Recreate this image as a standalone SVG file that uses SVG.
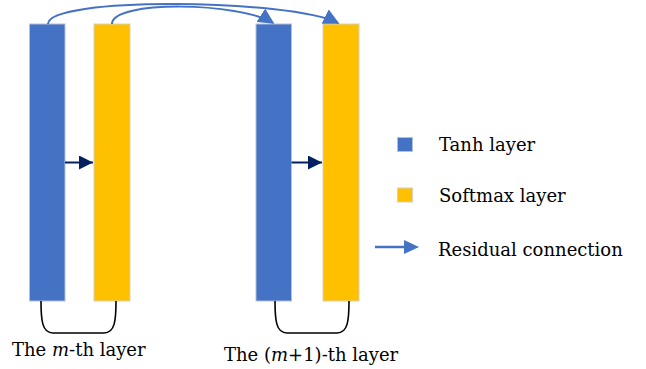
<svg xmlns="http://www.w3.org/2000/svg" width="646" height="369" viewBox="0 0 646 369">
<style>
.tanh{fill:#4472C4;stroke:#B4C0D8;stroke-width:1}
.soft{fill:#FFC000;stroke:#D8D0B8;stroke-width:1}
.res{fill:none;stroke:#4472C4;stroke-width:2}
.inner{fill:none;stroke:#002060;stroke-width:2}
.brk{fill:none;stroke:#000;stroke-width:1.6}
</style>
<defs>
<marker id="hb" viewBox="0 0 10 10" refX="9" refY="5" markerWidth="8" markerHeight="8" markerUnits="strokeWidth" orient="auto"><path d="M0,0 L10,5 L0,10 Z" fill="#4472C4"/></marker>
<marker id="hn" viewBox="0 0 10 10" refX="10" refY="5" markerWidth="7" markerHeight="7" markerUnits="strokeWidth" orient="auto"><path d="M0,0 L10,5 L0,10 Z" fill="#002060"/></marker>
</defs>
<g id="tanh-m"><rect class="tanh" x="29.5" y="24" width="35.5" height="277"/></g>
<g id="softmax-m"><rect class="soft" x="94" y="24" width="36" height="277"/></g>
<g id="tanh-m1"><rect class="tanh" x="256" y="24" width="35.5" height="277"/></g>
<g id="softmax-m1"><rect class="soft" x="323" y="24" width="36" height="277"/></g>
<g id="connectors">
<path class="res" d="M48,24 C48,-4 290,-1 338,23" marker-end="url(#hb)"/>
<path class="res" d="M112,24 C112,0 240,2 273,23" marker-end="url(#hb)"/>
<path class="inner" d="M65,162.5 L93,162.5" marker-end="url(#hn)"/>
<path class="inner" d="M291.5,162.5 L322,162.5" marker-end="url(#hn)"/>
<path class="brk" d="M41,301 C41,320 42,333 53,333 L104,333 C115,333 116,320 116,301"/>
<path class="brk" d="M275,301 C275,320 276,333 287,333 L337,333 C348,333 349,320 349,301"/>
</g>
<g font-family="DejaVu Serif, serif" font-size="18" fill="#000">
<g id="label-m"><text x="12" y="356">The <tspan font-style="italic">m</tspan>-th layer</text></g>
<g id="label-m1"><text x="224" y="361">The (<tspan font-style="italic">m</tspan>+1)-th layer</text></g>
<g id="legend">
<rect class="tanh" x="397.5" y="137.5" width="15" height="14"/>
<text x="439" y="151">Tanh layer</text>
<rect class="soft" x="397.5" y="188" width="15" height="14"/>
<text x="439" y="202">Softmax layer</text>
<path d="M375,247 L406,247" stroke="#4472C4" stroke-width="2.5"/>
<path d="M404,240 L419,247 L404,254 Z" fill="#4472C4"/>
<text x="438" y="256">Residual connection</text>
</g>
</g>
</svg>
